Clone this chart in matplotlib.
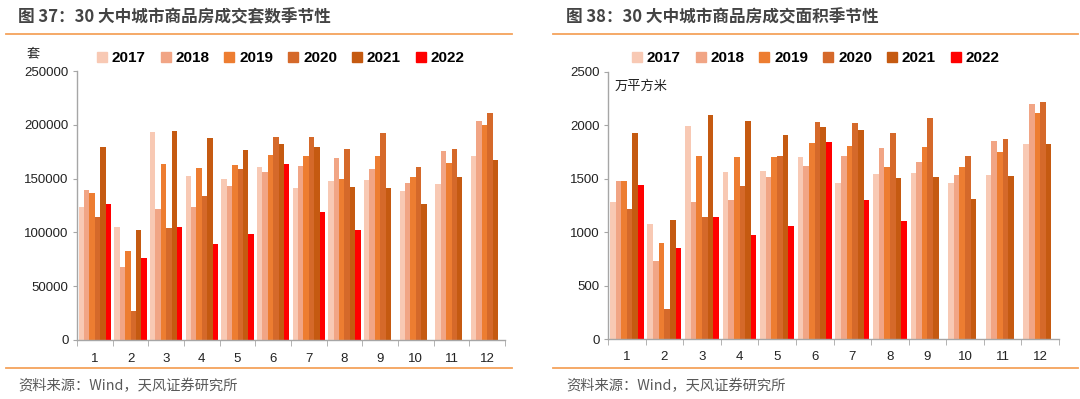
import numpy as np
import matplotlib
matplotlib.use("Agg")
import matplotlib.pyplot as plt
from matplotlib.lines import Line2D

plt.rcParams['font.family'] = ['Liberation Sans', 'Noto Sans CJK SC', 'DejaVu Sans']

months = [str(m) for m in range(1, 13)]
years = ['2017', '2018', '2019', '2020', '2021', '2022']
colors = ['#F8C9B4', '#F1A585', '#ED7D31', '#D5692A', '#C55A11', '#FF0000']

# 成交套数 (套)
units_2017 = [123300, 104900, 193200, 152500, 149400, 160900, 141000, 148100, 148700, 138500, 145300, 171400]
units_2018 = [139100, 67400, 121400, 123900, 142900, 155900, 161800, 169000, 159000, 146000, 176100, 203400]
units_2019 = [136900, 82300, 163700, 159600, 162400, 172000, 170800, 150000, 171400, 151800, 164300, 199400]
units_2020 = [114300, 26700, 103700, 134100, 159000, 189100, 189100, 177400, 192300, 161200, 177900, 210600]
units_2021 = [179200, 102400, 193800, 187300, 176700, 182600, 179200, 142200, 141600, 126700, 151300, 167400]
units_2022 = [126700, 75800, 104900, 89400, 98100, 163700, 118600, 101900, None, None, None, None]

# 成交面积 (万平方米)
area_2017 = [1280, 1074, 1996, 1568, 1574, 1702, 1465, 1543, 1550, 1459, 1540, 1827]
area_2018 = [1477, 730, 1280, 1302, 1521, 1618, 1712, 1784, 1656, 1534, 1853, 2202]
area_2019 = [1484, 899, 1709, 1702, 1702, 1831, 1809, 1612, 1796, 1612, 1750, 2112]
area_2020 = [1218, 283, 1140, 1437, 1715, 2029, 2025, 1925, 2068, 1712, 1871, 2223]
area_2021 = [1925, 1118, 2094, 2040, 1912, 1987, 1953, 1512, 1515, 1308, 1527, 1822]
area_2022 = [1443, 855, 1140, 971, 1062, 1846, 1302, 1109, None, None, None, None]

units = [units_2017, units_2018, units_2019, units_2020, units_2021, units_2022]
area = [area_2017, area_2018, area_2019, area_2020, area_2021, area_2022]

W, H = 1080, 399
fig = plt.figure(figsize=(W / 100, H / 100), dpi=100)

ORANGE = '#F4A25C'
TXT = '#444444'
GRAY = '#595959'
CJK = ['Noto Sans CJK SC', 'DejaVu Sans']


def fx(px):
    return px / W


def fy(py):
    return 1 - py / H


def draw_panel(rect, series, ymax, ystep, title, tx, line_x0, line_x1, unit, unit_pos, legend_center):
    ax = fig.add_axes(rect)
    x = np.arange(1, 13)
    bw = 0.15
    n = len(series)
    handles = []
    for i, (yr, vals, c) in enumerate(zip(years, series, colors)):
        v = np.array([np.nan if a is None else a for a in vals], dtype=float)
        pos = x + (i - (n - 1) / 2) * bw
        ax.bar(pos, v, width=bw, color=c, edgecolor='none', zorder=2)
        handles.append(Line2D([], [], marker='s', linestyle='none', markersize=6.5,
                              markerfacecolor=c, markeredgecolor=c, label=yr))
    ax.set_xlim(0.5, 12.5)
    ax.set_ylim(0, ymax)
    ax.set_yticks(np.arange(0, ymax + 1, ystep))
    ax.set_xticks(x)
    ax.set_xticklabels(months)
    ax.set_xticks(np.arange(0.5, 13, 1), minor=True)
    ax.tick_params(axis='x', which='major', length=0, pad=9, labelsize=9.5, labelcolor='#222222')
    ax.tick_params(axis='x', which='minor', length=4, color='#A6A6A6', direction='out')
    ax.tick_params(axis='y', length=3, color='#A6A6A6', labelsize=9.5, labelcolor='#222222', pad=3)
    for s in ['top', 'right']:
        ax.spines[s].set_visible(False)
    for s in ['left', 'bottom']:
        ax.spines[s].set_color('#A6A6A6')
        ax.spines[s].set_linewidth(1.0)

    fig.legend(handles=handles, loc='center', bbox_to_anchor=(fx(legend_center), fy(58)),
               ncol=6, frameon=False, handlelength=0.6, handletextpad=0.35,
               columnspacing=1.0, prop={'family': 'Liberation Sans', 'weight': 'bold', 'size': 11})

    fig.text(fx(tx), fy(17), title, family=CJK, fontsize=12, fontweight='bold',
             color=TXT, ha='left', va='center')
    fig.add_artist(Line2D([fx(line_x0), fx(line_x1)], [fy(34), fy(34)], color=ORANGE, lw=1.3))
    fig.add_artist(Line2D([fx(line_x0), fx(line_x1)], [fy(368), fy(368)], color=ORANGE, lw=1.3))
    fig.text(fx(tx), fy(386), '资料来源：Wind，天风证券研究所', family=CJK, fontsize=10.3,
             color=GRAY, ha='left', va='center')
    fig.text(fx(unit_pos[0]), fy(unit_pos[1]), unit, family=CJK, fontsize=9.5,
             color='#222222', ha='left', va='center')
    return ax


draw_panel([fx(77), fy(340), fx(505 - 77), (340 - 71) / H], units, 250000, 50000,
           '图 37：30 大中城市商品房成交套数季节性', 18, 6, 512, '套', (27, 54), 281)
draw_panel([fx(608), fy(339), fx(1059 - 608), (339 - 72) / H], area, 2500, 500,
           '图 38：30 大中城市商品房成交面积季节性', 566, 553, 1078, '万平方米', (615, 86), 816)

fig.savefig('out.png', dpi=100)
